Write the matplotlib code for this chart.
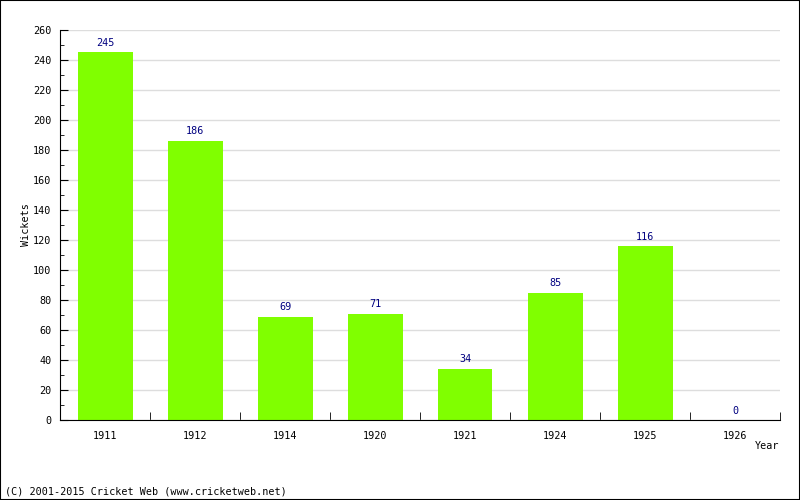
import numpy as np
import matplotlib.pyplot as plt
from matplotlib.ticker import MultipleLocator
from matplotlib.patches import Rectangle

years = ['1911', '1912', '1914', '1920', '1921', '1924', '1925', '1926']
wickets = [245, 186, 69, 71, 34, 85, 116, 0]

plt.rcParams['font.family'] = 'DejaVu Sans Mono'
fs = 7.3

fig = plt.figure(figsize=(8, 5), dpi=100)
ax = fig.add_axes([60/800, 80/500, 720/800, 390/500])

x = np.arange(len(years))
ax.bar(x, wickets, width=55/90, color='#80ff00', zorder=2)
for xi, v in zip(x, wickets):
    ax.text(xi, v + 3, str(v), ha='center', va='bottom', fontsize=fs, color='#000080')

ax.set_xlim(-0.5, len(years) - 0.5)
ax.set_ylim(0, 260)
ax.yaxis.set_major_locator(MultipleLocator(20))
ax.yaxis.set_minor_locator(MultipleLocator(10))
ax.grid(axis='y', color='#dddddd', linewidth=1, zorder=0)

ax.set_xticks(x)
ax.set_xticklabels(years, fontsize=fs)
ax.set_xticks(np.arange(len(years)) + 0.5, minor=True)
ax.tick_params(axis='x', which='major', length=0, pad=8)
ax.tick_params(axis='x', which='minor', direction='in', length=6)
ax.tick_params(axis='y', which='major', direction='in', length=6, labelsize=fs, pad=6)
ax.tick_params(axis='y', which='minor', direction='in', length=3)

for s in ['top', 'right']:
    ax.spines[s].set_visible(False)

ax.set_ylabel('Wickets', fontsize=fs)
ax.yaxis.set_label_coords(-0.04, 0.5)
fig.text(779/800, 1 - 446/500, 'Year', ha='right', va='center', fontsize=fs)
fig.text(5/800, 1 - 491/500, '(C) 2001-2015 Cricket Web (www.cricketweb.net)',
         ha='left', va='center', fontsize=fs)

fig.patches.append(Rectangle((0, 0), 1, 1, transform=fig.transFigure,
                             fill=False, edgecolor='black', linewidth=1.5))

fig.savefig('out.png', dpi=100)
